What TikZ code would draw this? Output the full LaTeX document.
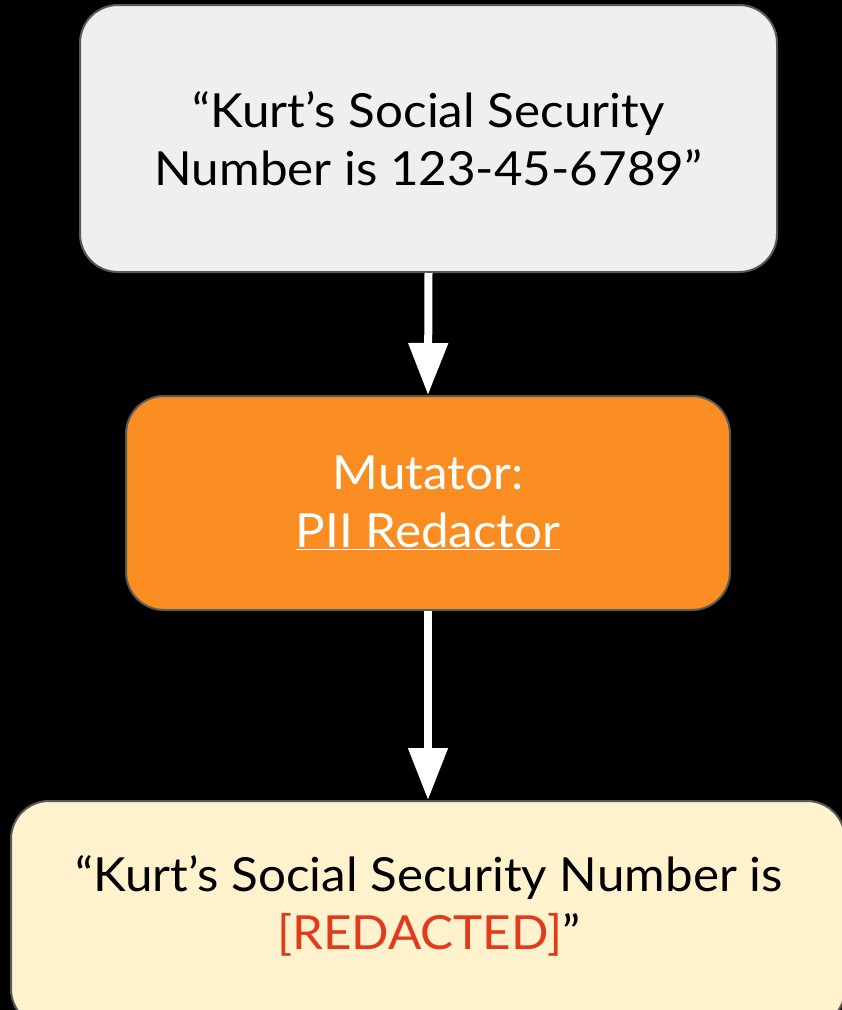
\documentclass[tikz,border=0pt]{standalone}
\usepackage{fontspec}
\setmainfont{Lato}[FakeStretch=1.05]
\usetikzlibrary{arrows.meta}
\definecolor{graybox}{RGB}{239,239,239}
\definecolor{edgegray}{RGB}{89,89,89}
\definecolor{orangebox}{RGB}{250,141,34}
\definecolor{yellowbox}{RGB}{255,242,204}
\definecolor{redtext}{RGB}{226,58,26}
\begin{document}
\begin{tikzpicture}[x=1pt,y=-1pt,
  box/.style={draw=edgegray, line width=2pt, rounded corners=38pt, inner sep=0pt, align=center,
    font=\fontsize{47}{58}\selectfont},
  flow/.style={draw=white, line width=8pt, -{Triangle[width=38pt,length=52pt]}, fill=white}
]
\fill[black] (0,0) rectangle (842,1010);
\useasboundingbox (0,0) rectangle (842,1010);
\node[box, fill=graybox, minimum width=697pt, minimum height=267pt] (input) at (428.5,138.5)
  {“Kurt’s Social Security\\Number is 123-45-6789”};
\node[box, fill=orangebox, text=white, minimum width=604pt, minimum height=214pt] (mut) at (428,503)
  {Mutator:\\\underline{PII Redactor}};
\node[box, fill=yellowbox, minimum width=834pt, minimum height=226pt, anchor=north west] (out) at (10,800)
  {};
\node[font=\fontsize{47}{58}\selectfont, align=center] (outtext) at (429,906)
  {“Kurt’s Social Security Number is\\\textcolor{redtext}{[REDACTED]}”};
\draw[flow] (input.south) -- (mut.north);
\draw[flow] (mut.south) -- (mut.south |- out.north);
\end{tikzpicture}
\end{document}
